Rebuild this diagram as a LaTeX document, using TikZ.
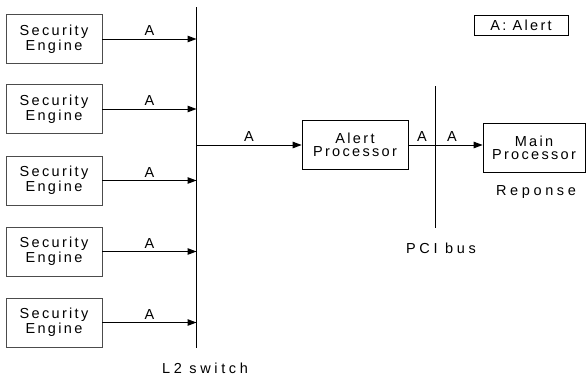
\documentclass[tikz,border=0pt]{standalone}
\usepackage{fontspec}
\setmainfont{Liberation Sans}[LetterSpace=16]
\usetikzlibrary{arrows.meta}

\begin{document}
\begin{tikzpicture}[x=1pt,y=-1pt,
  txt/.style={font=\fontsize{14.5}{13.5}\selectfont, inner sep=0pt},
  wide/.style={txt, font=\fontsize{14.5}{13.5}\selectfont\addfontfeature{LetterSpace=25}},
  blk/.style={txt, draw, line width=0.7pt, align=center, minimum height=49pt},
  engine/.style={blk, draw=black!70, minimum width=96pt},
  bus/.style={line width=1.1pt},
  link/.style={line width=1pt},
  flow/.style={link, -{Triangle[length=9pt,width=6.5pt]}},
  lbl/.style={txt, above, inner sep=3pt}]
  \useasboundingbox (0,0) rectangle (588,378);

  % buses
  \coordinate (swtop) at (196.5,7);
  \coordinate (swbot) at (196.5,348);
  \draw[bus] (swtop) -- (swbot);
  \coordinate (pcitop) at (435.5,86);
  \coordinate (pcibot) at (435.5,228);
  \draw[bus] (pcitop) -- (pcibot);
  \node[wide] (l2) at (205,368) {L2 switch};
  \node[wide] (pci) at (441,248) {PCI bus};

  % security engines feeding the L2 switch
  \foreach \i/\y in {1/39,2/109,3/180.5,4/251.5,5/322.5}{
    \node[engine] (se\i) at (54,\y) {Security\\Engine};
    \draw[flow] (se\i.east) -- node[lbl] {A} (se\i.east -| swtop);
  }

  % alert processor
  \node[blk, minimum width=106pt] (ap) at (355,145) {Alert\\Processor};
  \draw[flow] (ap.west -| swtop) -- node[lbl] {A} (ap.west);

  % main processor behind the PCI bus
  \node[blk, minimum width=102pt] (mp) at (534,148) {Main\\Processor};
  \coordinate (pcimid) at (ap.east -| pcitop);
  \draw[link] (ap.east) -- node[lbl] {A} (pcimid);
  \draw[flow] (pcimid) -- node[lbl, pos=0.35] {A} (mp.west |- pcimid);
  \node[wide] (resp) at (536,192) {Reponse};

  % legend
  \node[txt, draw, line width=0.7pt, minimum width=94pt, minimum height=20pt] (key) at (521,25) {A: Alert};
\end{tikzpicture}
\end{document}
